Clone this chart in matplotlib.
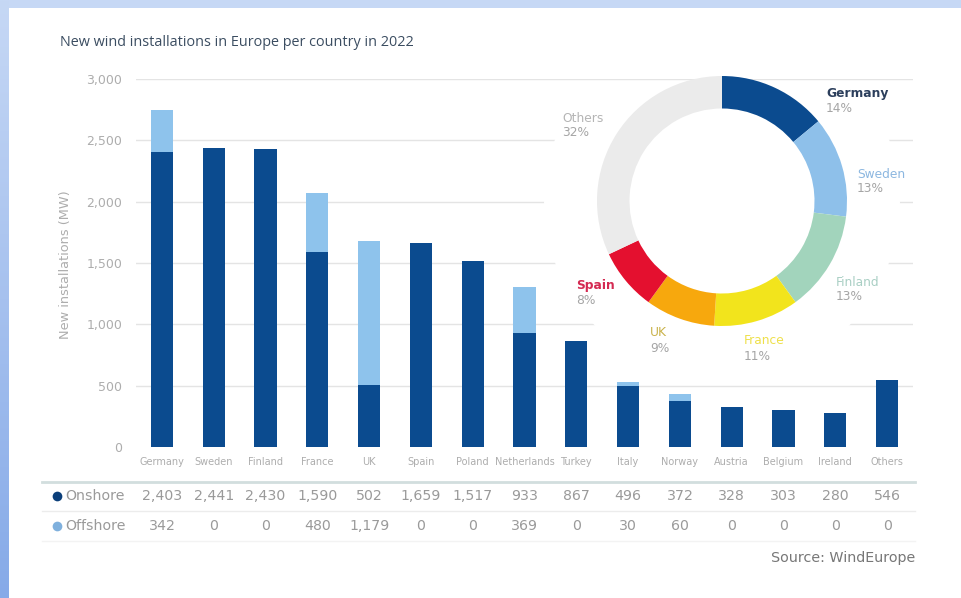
import numpy as np
import matplotlib
matplotlib.use("Agg")
import matplotlib.pyplot as plt
from matplotlib.patches import Rectangle, Polygon
from matplotlib.transforms import blended_transform_factory
from matplotlib.colors import LinearSegmentedColormap

# ---- data -------------------------------------------------------------
countries = ["Germany", "Sweden", "Finland", "France", "UK", "Spain", "Poland",
             "Netherlands", "Turkey", "Italy", "Norway", "Austria", "Belgium",
             "Ireland", "Others"]
onshore = [2403, 2441, 2430, 1590, 502, 1659, 1517, 933, 867, 496, 372, 328, 303, 280, 546]
offshore = [342, 0, 0, 480, 1179, 0, 0, 369, 0, 30, 60, 0, 0, 0, 0]
y_ticks = [0, 500, 1000, 1500, 2000, 2500, 3000]

share_labels = ["Germany", "Sweden", "Finland", "France", "UK", "Spain", "Others"]
share_pct = [14, 13, 13, 11, 9, 8, 32]

# ---- style ------------------------------------------------------------
W, H = 961, 598
FONT = "DejaVu Sans"
C_ON = "#0b4b8f"
C_OFF = "#8ec3ec"
C_GRID = "#e4e4e4"
C_TICK = "#adadad"
C_TABLE = "#9a9a9a"
share_colors = ["#0b4b8f", "#8ec0ea", "#a2d4bc", "#f2e41c", "#f7a80d", "#e4102f", "#ebebeb"]
label_colors = ["#2c3f5c", "#8cb7e0", "#a9cfc4", "#eee04a", "#c9b24a", "#d42a52", "#b5b5b5"]
label_bold = [True, False, False, False, False, True, False]


def fx(px):
    return px / W


def fy(py):
    return 1 - py / H


fig = plt.figure(figsize=(W / 100, H / 100), dpi=100)
fig.patch.set_facecolor("white")

# frame strips along the top and left edges
fig.patches.append(Rectangle((0, fy(8)), 1, 8 / H, transform=fig.transFigure,
                             facecolor="#c6d8f5", edgecolor="none", zorder=0))
ax_strip = fig.add_axes([0, 0, fx(9), 1], zorder=5)
grad = np.linspace(0, 1, 256).reshape(-1, 1)
cmap = LinearSegmentedColormap.from_list("strip", ["#c6d8f5", "#86aae8"])
ax_strip.imshow(grad, aspect="auto", cmap=cmap, extent=[0, 1, 1, 0])
ax_strip.set_axis_off()

# ---- bar chart --------------------------------------------------------
ax = fig.add_axes([fx(136), fy(447), fx(913 - 136), (447 - 79) / H], zorder=0)
x = np.arange(len(countries))
ax.set_xlim(-0.5, len(countries) - 0.5)
ax.set_ylim(0, 3000)
for t in y_ticks[1:]:
    ax.axhline(t, color=C_GRID, lw=1, zorder=0)
ax.bar(x, onshore, width=0.43, color=C_ON, zorder=2)
ax.bar(x, offshore, width=0.43, bottom=onshore, color=C_OFF, zorder=2)
for s in ax.spines.values():
    s.set_visible(False)
ax.set_yticks(y_ticks)
ax.set_yticklabels([f"{v:,}" for v in y_ticks], fontsize=9, color=C_TICK, family=FONT)
ax.set_xticks(x)
ax.set_xticklabels(countries, fontsize=7, color=C_TICK, family=FONT)
ax.tick_params(length=0, axis="y", pad=10)
ax.tick_params(length=0, axis="x", pad=7)
ax.set_facecolor("none")
fig.text(fx(65), fy(265), "New installations (MW)", rotation=90, ha="center", va="center",
         fontsize=9.3, color=C_TICK, family=FONT)

fig.text(fx(60), fy(42), "New wind installations in Europe per country in 2022",
         fontsize=10.4, color="#3b4d61", family="Open Sans", ha="left", va="center")

# ---- table under the bars --------------------------------------------
tr = blended_transform_factory(ax.transData, fig.transFigure)
fig.add_artist(plt.Line2D([fx(42), fx(915)], [fy(482), fy(482)], color="#d2dede", lw=2))
fig.add_artist(plt.Line2D([fx(42), fx(915)], [fy(511), fy(511)], color="#ececec", lw=1))
fig.add_artist(plt.Line2D([fx(42), fx(915)], [fy(541), fy(541)], color="#f3f3f3", lw=1))

for row_y, name, vals, dot in [(496, "Onshore", onshore, "#0b3f7a"),
                               (526, "Offshore", offshore, "#7fb0dd")]:
    fig.add_artist(plt.Line2D([fx(57)], [fy(row_y)], marker="o", ms=7,
                              color=dot, mec="none"))
    fig.text(fx(65), fy(row_y), name, fontsize=10.2, color=C_TABLE, family=FONT,
             ha="left", va="center")
    for xi, v in zip(x, vals):
        fig.text(xi, fy(row_y), f"{v:,}", transform=tr, fontsize=10.2, color=C_TABLE,
                 family=FONT, ha="center", va="center")

fig.text(fx(915), fy(558), "Source: WindEurope", fontsize=10.3, color="#777777",
         family=FONT, ha="right", va="center")

# ---- donut with white backdrop ---------------------------------------
cx, cy, r = 722, 201, 125
theta = np.linspace(0, 2 * np.pi, 200)
bx = cx + 178 * np.cos(theta)
by = np.maximum(cy + 178 * np.sin(theta), 86)
fig.patches.append(Polygon(np.column_stack([fx(bx), fy(by)]), closed=True,
                           transform=fig.transFigure, facecolor="white",
                           edgecolor="none", zorder=1))

ax_d = fig.add_axes([fx(cx - r), fy(cy + r), 2 * r / W, 2 * r / H], zorder=2)
ax_d.pie(share_pct, colors=share_colors, startangle=90, counterclock=False,
         radius=1, wedgeprops=dict(width=0.26, edgecolor="none"))
ax_d.set_xlim(-1, 1)
ax_d.set_ylim(-1, 1)
ax_d.set_aspect("equal")
ax_d.set_axis_off()

label_pos = [(826, 94), (857, 174), (836, 282), (744, 341), (650, 333), (576, 285), (562, 118)]
for (lx, ly), name, pct, col, bold in zip(label_pos, share_labels, share_pct,
                                         label_colors, label_bold):
    fig.text(fx(lx), fy(ly), name, fontsize=8.8, color=col, family=FONT,
             fontweight="bold" if bold else "normal", ha="left", va="center", zorder=3)
    fig.text(fx(lx), fy(ly + 15), f"{pct}%", fontsize=8.8, color="#a5a5a5",
             family=FONT, ha="left", va="center", zorder=3)

fig.savefig("out.png", dpi=100)
